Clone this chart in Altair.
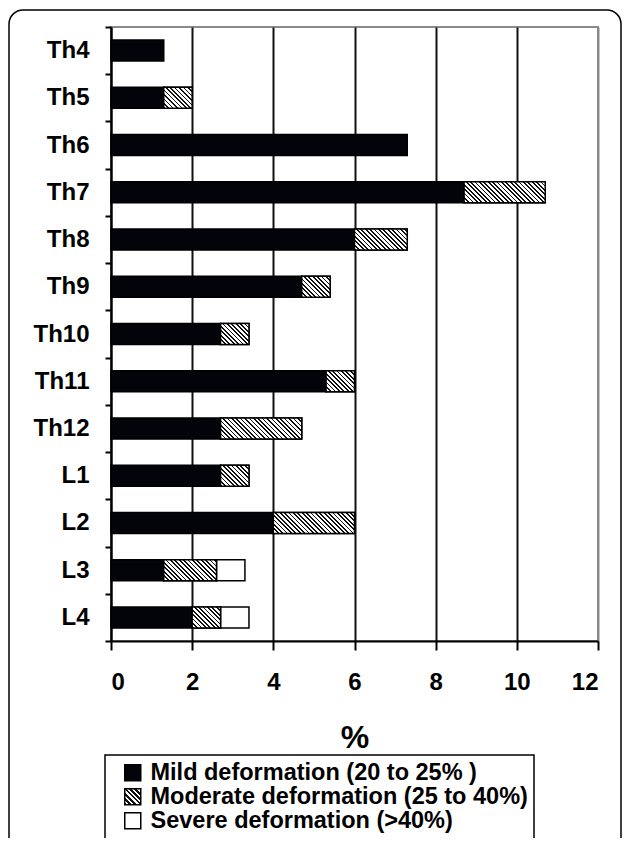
import json
import altair as alt
import pandas as pd

# ---- data ----
levels = ["Th4", "Th5", "Th6", "Th7", "Th8", "Th9", "Th10", "Th11", "Th12", "L1", "L2", "L3", "L4"]
mild = [1.3, 1.3, 7.3, 8.7, 6.0, 4.7, 2.7, 5.3, 2.7, 2.7, 4.0, 1.3, 2.0]
moderate = [0, 0.7, 0, 2.0, 1.3, 0.7, 0.7, 0.7, 2.0, 0.7, 2.0, 1.3, 0.7]
severe = [0, 0, 0, 0, 0, 0, 0, 0, 0, 0, 0, 0.7, 0.7]
severity_names = [
    "Mild deformation (20 to 25% )",
    "Moderate deformation (25 to 40%)",
    "Severe deformation (>40%)",
]
x_ticks = [0, 2, 4, 6, 8, 10, 12]

# ---- layout ----
W, H = 487, 614
PAD = {"left": 103, "top": 19, "right": 24, "bottom": 197}
X_MAX = 12
BAR_H = 21
PX_PER_UNIT = W / X_MAX
FONT = "Liberation Sans"


def hatch(w, h, period=4.4, ink=0.4):
    """Diagonal '\\' stripes as a linear gradient in the item's bounding box."""
    r = h / w
    u = (1 + r) / (1 + r * r)
    L = w + h
    stops = []
    k = 0
    while k * period < L:
        a = k * period / L
        b = min((k + ink) * period / L, 1)
        c = min((k + 1) * period / L, 1)
        stops += [
            {"offset": round(a, 4), "color": "#111"},
            {"offset": round(b, 4), "color": "#111"},
            {"offset": round(b, 4), "color": "#fff"},
            {"offset": round(c, 4), "color": "#fff"},
        ]
        k += 1
    return {"gradient": "linear", "x1": 0, "y1": 1, "x2": round(u, 4),
            "y2": round(1 - u * r, 4), "stops": stops}


records = []
for i, lv in enumerate(levels):
    for rank, (name, vals) in enumerate(zip(severity_names, [mild, moderate, severe])):
        v = vals[i]
        if v <= 0:
            continue
        rec = {"Level": lv, "Severity": name, "rank": rank, "value": v}
        if rank == 1:
            rec["grad"] = hatch(v * PX_PER_UNIT, BAR_H)
        records.append(rec)

legend_hatch = json.dumps(hatch(16, 16, period=5.0, ink=0.42))

base = alt.Chart(alt.Data(values=records)).transform_stack(
    stack="value", groupby=["Level"], sort=[alt.SortField("rank", order="ascending")],
    as_=["x0", "x1"],
)

y_enc = alt.Y(
    "Level:N", sort=levels,
    scale=alt.Scale(paddingInner=0, paddingOuter=0),
    axis=alt.Axis(
        title=None, tickBand="extent", tickSize=6, tickWidth=2, tickColor="black",
        domainColor="black", domainWidth=2, labelFont=FONT, labelFontWeight="bold",
        labelFontSize=24, labelPadding=16, labelColor="black", grid=False,
    ),
)
x_enc = alt.X(
    "x0:Q",
    scale=alt.Scale(domain=[0, X_MAX], nice=False),
    axis=alt.Axis(
        values=x_ticks, title="%", titleFont=FONT, titleFontSize=32, titleFontWeight="bold",
        titleColor="black", titlePadding=28, grid=True,
        gridColor={"condition": {"test": "datum.value === 12", "value": "#8a8a8a"}, "value": "#111"},
        gridWidth=2, tickSize=9, tickWidth=2, tickColor="black", domainColor="black",
        domainWidth=2, labelFont=FONT, labelFontWeight="bold", labelFontSize=24,
        labelPadding=20, labelColor="black",
    ),
)

bars = base.mark_bar(size=BAR_H, stroke="black", strokeWidth=1.5).encode(
    y=y_enc,
    x=x_enc,
    x2="x1:Q",
    fill=alt.Fill(
        "Severity:N",
        scale=alt.Scale(domain=severity_names,
                        range=["#03030a", alt.ExprRef(expr=legend_hatch), "white"]),
        legend=alt.Legend(
            orient="none", legendX=-6, legendY=728, title=None, symbolType="square",
            symbolSize=256, symbolStrokeColor="black", symbolStrokeWidth=1.5,
            labelFont=FONT, labelFontSize=23.5, labelFontWeight="bold", labelColor="black",
            labelLimit=600, strokeColor="black", padding=6, symbolOffset=10,
            rowPadding=-1.5, labelOffset=6, symbolOpacity=1,
        ),
    ),
)

hatched = base.transform_filter("datum.rank === 1").mark_bar(
    size=BAR_H, stroke="black", strokeWidth=1.5
).encode(
    y=alt.Y("Level:N", sort=levels),
    x=alt.X("x0:Q"),
    x2="x1:Q",
    fill=alt.Fill("grad:N", scale=None, legend=None),
)

# decorative rounded frame around the whole figure (runs off the bottom edge)
frame = alt.Chart(pd.DataFrame({"k": [0]})).mark_rect(
    filled=False, stroke="black", strokeWidth=1.5, cornerRadius=14
).encode(
    x=alt.value(-102), x2=alt.value(W + PAD["right"] - 1),
    y=alt.value(-17), y2=alt.value(H + PAD["bottom"] + 40),
)

chart = alt.layer(frame, bars, hatched).properties(
    width=W, height=H, autosize="none", padding=PAD,
).configure_view(stroke="#8a8a8a", strokeWidth=2).configure_legend(strokeWidth=1.5)

chart.save("out.html", embed_options={"renderer": "svg", "actions": False})
